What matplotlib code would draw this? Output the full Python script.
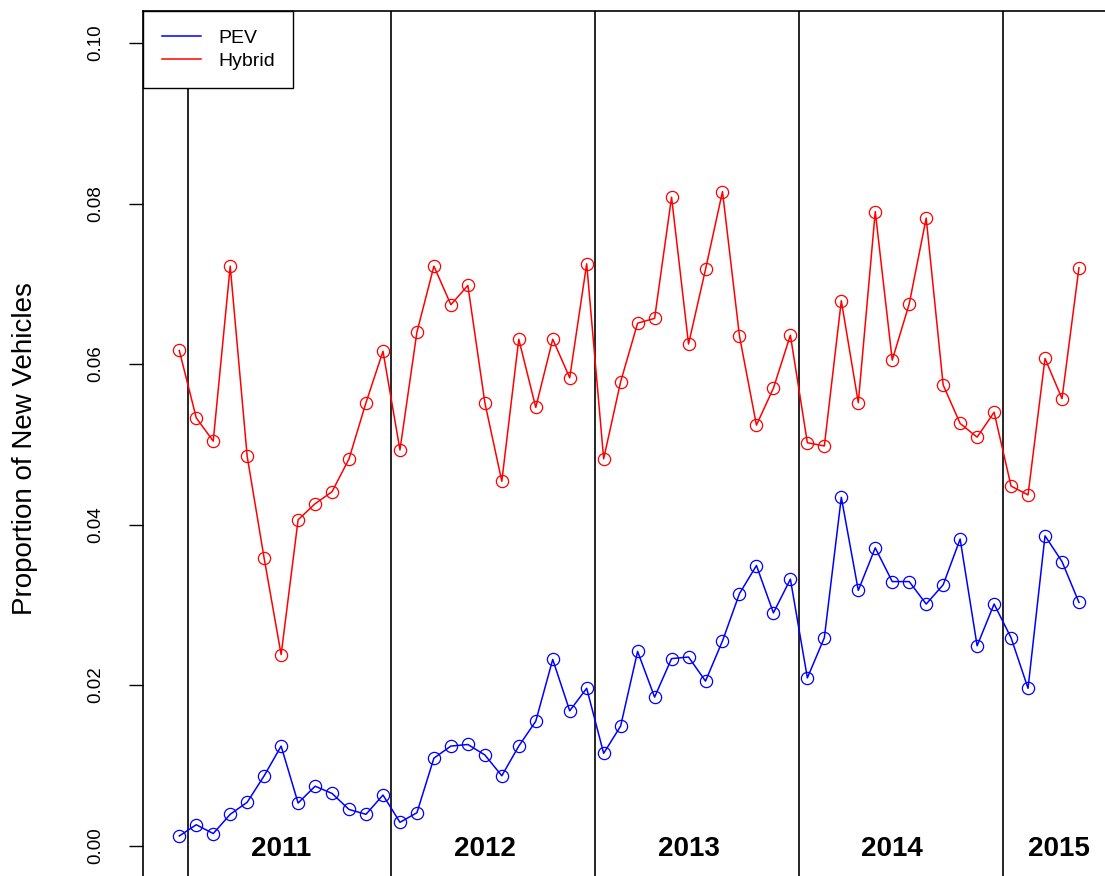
import numpy as np
import pandas as pd
import matplotlib
matplotlib.use("Agg")
import matplotlib.pyplot as plt

plt.rcParams["font.family"] = ["Liberation Sans", "DejaVu Sans"]

# Monthly share of new vehicle registrations, Dec 2010 - May 2015
months = pd.period_range("2010-12", "2015-05", freq="M")

pev = [0.0012, 0.0026, 0.0015, 0.0039, 0.0054, 0.0087, 0.0124, 0.0053, 0.0074,
       0.0065, 0.0045, 0.0039, 0.0063,
       0.0029, 0.0041, 0.0109, 0.0124, 0.0126, 0.0113, 0.0087, 0.0124, 0.0155,
       0.0232, 0.0168, 0.0196,
       0.0115, 0.0149, 0.0242, 0.0185, 0.0233, 0.0235, 0.0205, 0.0255, 0.0314,
       0.0349, 0.0290, 0.0332,
       0.0209, 0.0259, 0.0434, 0.0318, 0.0371, 0.0329, 0.0329, 0.0301, 0.0325,
       0.0382, 0.0249, 0.0301,
       0.0259, 0.0196, 0.0386, 0.0354, 0.0303]

hybrid = [0.0617, 0.0533, 0.0504, 0.0722, 0.0485, 0.0358, 0.0238, 0.0406, 0.0426,
          0.0441, 0.0482, 0.0552, 0.0616,
          0.0493, 0.0640, 0.0722, 0.0674, 0.0698, 0.0552, 0.0454, 0.0631, 0.0546,
          0.0631, 0.0583, 0.0725,
          0.0482, 0.0578, 0.0651, 0.0657, 0.0808, 0.0625, 0.0718, 0.0815, 0.0635,
          0.0524, 0.0570, 0.0636,
          0.0502, 0.0498, 0.0679, 0.0552, 0.0790, 0.0605, 0.0675, 0.0782, 0.0574,
          0.0526, 0.0509, 0.0540,
          0.0448, 0.0437, 0.0607, 0.0557, 0.0720]

series_names = ["PEV", "Hybrid"]
series_colors = ["#0000FF", "#FF0000"]
y_ticks = [0.00, 0.02, 0.04, 0.06, 0.08, 0.10]

W, H = 1105, 876
fig = plt.figure(figsize=(W / 100, H / 100), dpi=100)

idx = np.arange(len(months))
n = len(months)
pad = 0.04 * (n - 1)
xlim = (-pad, n - 1 + pad)
ylim = (-0.004, 0.104)

# axes box: left edge at ~143 px, top at 11 px; right/bottom run past the frame
px_per_x = 16.975
ax_w = (xlim[1] - xlim[0]) * px_per_x
ax_h = (ylim[1] - ylim[0]) * 8025
ax_left = 143.3
ax = fig.add_axes([ax_left / W, 1 - (11 + ax_h) / H, ax_w / W, ax_h / H])
ax.set_xlim(*xlim)
ax.set_ylim(*ylim)

for vals, name, col in zip([pev, hybrid], series_names, series_colors):
    ax.plot(idx, vals, color=col, lw=1.1, marker="o", ms=8.8,
            mfc="none", mec=col, mew=0.9, label=name)

# year dividers between December and January
years = months.year
bounds = [i - 0.5 for i in range(1, n) if years[i] != years[i - 1]]
for b in bounds:
    ax.axvline(b, color="black", lw=1.2, zorder=0)

for yr in sorted(set(years)):
    sel = idx[years == yr]
    if len(sel) == 12:
        xc = sel[0] + 5
    elif sel[0] == 0:
        continue
    else:
        xc = (sel[0] - 0.5 + xlim[1]) / 2
    ax.text(xc, -0.0004, str(yr), ha="center", va="center",
            fontsize=20, fontweight="bold")

ax.set_yticks(y_ticks)
ax.set_yticklabels([f"{v:.2f}" for v in y_ticks], rotation=90, va="center",
                   fontsize=13.5)
ax.tick_params(axis="y", length=10, width=1.0, pad=18)
ax.set_xticks([])
for s in ax.spines.values():
    s.set_linewidth(1.2)

ax.set_ylabel("Proportion of New Vehicles", fontsize=20)
ax.yaxis.label.set_va("center")
ax.yaxis.set_label_coords((25 - ax_left) / ax_w, 0.495)

leg = ax.legend(loc="upper left", bbox_to_anchor=(0, 1), borderaxespad=0,
                fancybox=False, edgecolor="black", framealpha=1,
                fontsize=14, handlelength=2.0, handletextpad=0.9,
                labelspacing=0.25, borderpad=0.95)
leg.get_frame().set_linewidth(1.0)
for h in leg.legend_handles:
    h.set_marker("")

fig.savefig("out.png", dpi=100)
